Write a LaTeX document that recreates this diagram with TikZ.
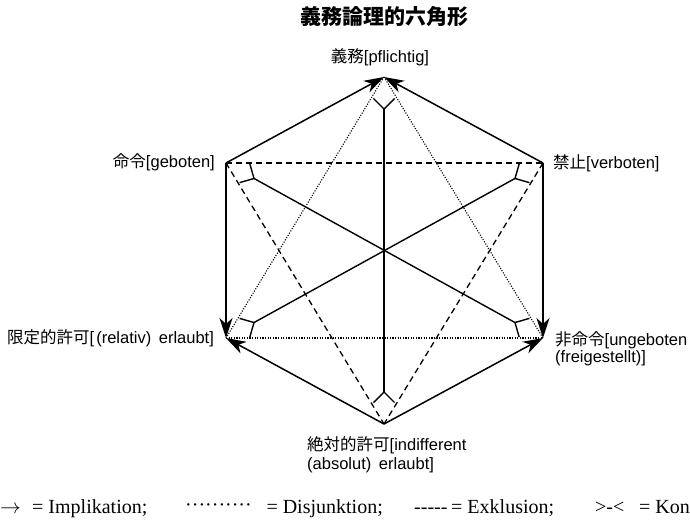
\documentclass[tikz,border=0pt]{standalone}
\usepackage{fontspec}
\setmainfont{Liberation Sans}
\newfontfamily\cjk{Noto Sans CJK JP}
\newfontfamily\legfont{Liberation Serif}
\usetikzlibrary{arrows.meta,calc}
\begin{document}
\begin{tikzpicture}[x=1pt,y=-1pt,
  imp/.style={line width=1.5pt,-{Stealth[length=20pt,width=13pt,inset=6pt]}},
  dis/.style={line width=1.1pt,dash pattern=on 1.1pt off 1.5pt},
  exc/.style={line width=1.3pt,dash pattern=on 6pt off 4pt},
  con/.style={line width=1.4pt},
  lab/.style={inner sep=0pt,font=\fontsize{16.5}{19}\selectfont},
  leg/.style={inner sep=0pt,font=\legfont\fontsize{20}{22}\selectfont,anchor=base west},
]
\useasboundingbox (0,0) rectangle (690,523);
\fill[white] (0,0) rectangle (690,523);

% vertices
\coordinate (T)  at (384,77);
\coordinate (UL) at (226,163);
\coordinate (UR) at (543,163);
\coordinate (LL) at (226,338);
\coordinate (LR) at (543,338);
\coordinate (B)  at (384,424);

% title and labels
\node[inner sep=0pt,font=\cjk\bfseries\fontsize{21}{24}\selectfont] (title) at (384,17) {義務論理的六角形};
\node[lab] (lT) at (380,57) {{\cjk 義務}[pflichtig]};
\node[lab,anchor=east] (lUL) at (215,162) {{\cjk 命令}[geboten]};
\node[lab,anchor=west] (lUR) at (553,163) {{\cjk 禁止}[verboten]};
\node[lab,anchor=west] (lLL) at (7,338) {{\cjk 限定的許可}[\kern2pt(relativ)\kern3pt\ erlaubt]};
\node[lab,anchor=west] (lLR1) at (555,340) {{\cjk 非命令}[ungeboten};
\node[lab,anchor=west] (lLR2) at (555,358) {(freigestellt)]};
\node[lab,anchor=west] (lB1) at (307,445) {{\cjk 絶対的許可}[indifferent};
\node[lab,anchor=west] (lB2) at (307,465) {(absolut)\kern3pt\ erlaubt]};

% exclusion (dashed)
\draw[exc] (UL) -- (UR);
\draw[exc] (UL) -- (B);
\draw[exc] (UR) -- (B);
% disjunction (dotted)
\draw[dis] (LL) -- (LR);
\draw[dis] (T) -- (LL);
\draw[dis] (T) -- (LR);

% contradiction
\foreach \a/\b in {T/B,UL/LR,UR/LL}{
  \coordinate (f\a) at ($(\a)!32pt!(\b)$);
  \coordinate (f\b) at ($(\b)!32pt!(\a)$);
  \draw[con] (f\a) -- (f\b);
  \draw[con] ($(f\a)!15pt!45:(\a)$) -- (f\a) -- ($(f\a)!15pt!-45:(\a)$);
  \draw[con] ($(f\b)!15pt!45:(\b)$) -- (f\b) -- ($(f\b)!15pt!-45:(\b)$);
}

% implication (arrows)
\draw[imp] (UL) -- (T);
\draw[imp] (UR) -- (T);
\draw[imp] (UL) -- (LL);
\draw[imp] (UR) -- (LR);
\draw[imp] (B) -- (LL);
\draw[imp] (B) -- (LR);

% legend
\node[leg] (g1) at (0,513) {$\rightarrow$};
\node[leg] (g2) at (32,513) {= Implikation;};
\node[leg] (g3) at (185,513) {\raisebox{1.5pt}{··········}};
\node[leg,anchor=base east] (g4) at (383,513) {= Disjunktion;};
\node[leg] (g5) at (414,513) {-----};
\node[leg] (g6) at (451,513) {= Exklusion;};
\node[leg] (g7) at (595,513) {>-<};
\node[leg,anchor=base east] (g8) at (690,513) {= Kon};
\end{tikzpicture}
\end{document}
